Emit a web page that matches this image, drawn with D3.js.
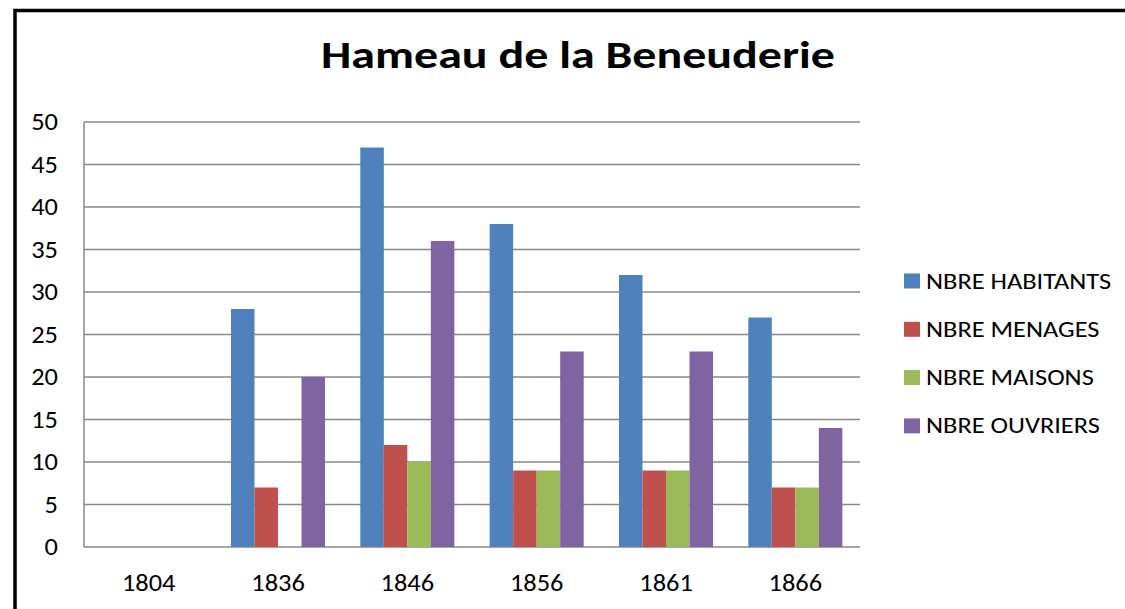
<!DOCTYPE html>
<html>
<head>
<meta charset="utf-8">
<script src="https://cdn.jsdelivr.net/npm/d3@7"></script>
<style>
  body { margin: 0; background: #fff; }
  text { font-family: Carlito, Lato, "Liberation Sans", Arial, sans-serif; fill: #000; }
</style>
</head>
<body>
<svg id="chart" width="1125" height="609"></svg>
<script>
const years = ["1804", "1836", "1846", "1856", "1861", "1866"];
const seriesNames = ["NBRE HABITANTS", "NBRE MENAGES", "NBRE MAISONS", "NBRE OUVRIERS"];
const habitants = [0, 28, 47, 38, 32, 27];
const menages = [0, 7, 12, 9, 9, 7];
const maisons = [0, 0, 10, 9, 9, 7];
const ouvriers = [0, 20, 36, 23, 23, 14];
const yTicks = [0, 5, 10, 15, 20, 25, 30, 35, 40, 45, 50];
const colors = ["#4F81BD", "#C0504D", "#9BBB59", "#8064A2"];

const values = [habitants, menages, maisons, ouvriers];

const svg = d3.select("#chart");
// the original picture is stretched sideways, text too
const sxTick = 1.1;
const sxLegend = 1.2;

// frame
svg.append("rect")
  .attr("x", 15).attr("y", 10.5)
  .attr("width", 1125).attr("height", 620)
  .attr("fill", "none").attr("stroke", "#000").attr("stroke-width", 3.5);

// title
svg.append("text")
  .attr("transform", `translate(578,68) scale(1.23,1)`)
  .attr("text-anchor", "middle")
  .style("font-size", "39px").style("font-weight", "bold")
  .text("Hameau de la Beneuderie");

const plotLeft = 84, plotRight = 860, plotTop = 122, plotBottom = 547;

const x0 = d3.scaleBand().domain(years).range([plotLeft, plotRight]).padding(0);
const gap = x0.bandwidth() * 1.5 / 5.5;
const x1 = d3.scaleBand().domain(d3.range(seriesNames.length))
  .range([gap / 2, x0.bandwidth() - gap / 2]).padding(0);
const y = d3.scaleLinear().domain([0, 50]).range([plotBottom, plotTop]);

// grid
svg.append("g").selectAll("line").data(yTicks).join("line")
  .attr("x1", plotLeft).attr("x2", plotRight)
  .attr("y1", d => y(d)).attr("y2", d => y(d))
  .attr("stroke", "#888").attr("stroke-width", 1.5);

// y axis line
svg.append("line")
  .attr("x1", plotLeft).attr("x2", plotLeft).attr("y1", plotTop).attr("y2", plotBottom)
  .attr("stroke", "#888").attr("stroke-width", 1.5);

// y labels
svg.append("g").selectAll("text").data(yTicks).join("text")
  .attr("transform", d => `translate(58,${y(d) + 8}) scale(${sxTick},1)`)
  .attr("text-anchor", "end")
  .style("font-size", "24px")
  .text(d => d);

// x labels
svg.append("g").selectAll("text").data(years).join("text")
  .attr("transform", d => `translate(${x0(d) + x0.bandwidth() / 2},591) scale(${sxTick},1)`)
  .attr("text-anchor", "middle")
  .style("font-size", "24px")
  .text(d => d);

// bars
const bars = [];
years.forEach((yr, i) => {
  values.forEach((arr, s) => {
    bars.push({ yr, s, v: arr[i] });
  });
});
svg.append("g").selectAll("rect").data(bars.filter(d => d.v > 0)).join("rect")
  .attr("x", d => x0(d.yr) + x1(d.s))
  .attr("width", x1.bandwidth())
  .attr("y", d => y(d.v))
  .attr("height", d => y(0) - y(d.v))
  .attr("fill", d => colors[d.s]);

// legend
const leg = svg.append("g").selectAll("g").data(seriesNames).join("g")
  .attr("transform", (d, i) => `translate(904, ${281 + i * 48.3})`);
leg.append("rect")
  .attr("x", 0).attr("y", -7.5).attr("width", 16).attr("height", 15)
  .attr("fill", (d, i) => colors[i]);
leg.append("text")
  .attr("transform", `translate(22,7.5) scale(${sxLegend},1)`)
  .style("font-size", "22px")
  .text(d => d);
</script>
</body>
</html>
